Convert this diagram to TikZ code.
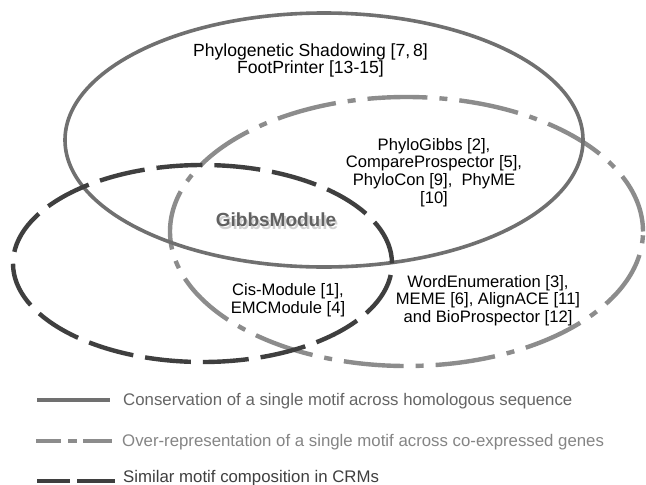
\documentclass[tikz,border=0pt]{standalone}
\usepackage{fontspec}
\setmainfont{Liberation Sans}
\begin{document}
\begin{tikzpicture}[x=1pt,y=-1pt,
  lab/.style={font=\fontsize{16.6}{17.6}\selectfont, text=black, align=center, inner sep=0pt},
  leg/.style={font=\fontsize{16.8}{18}\selectfont, anchor=west, inner sep=0pt},
  conscol/.style={draw=consgray, line width=3.6pt},
  overcol/.style={draw=overgray, line width=4.4pt, dash pattern=on 60pt off 12pt on 8pt off 12pt},
  crmcol/.style={draw=crmgray, line width=4.4pt, dash pattern=on 46pt off 12pt}
]
\definecolor{consgray}{HTML}{707070}
\definecolor{overgray}{HTML}{8C8C8C}
\definecolor{crmgray}{HTML}{3F3F3F}
\useasboundingbox[fill=white] (0,0) rectangle (646,485);

% ellipses
\draw[overcol] (406.5,231.5) ellipse [x radius=236.5pt, y radius=134.5pt];
\draw[conscol] (324,140) ellipse [x radius=259pt, y radius=127pt];
\draw[crmcol] (202.5,263.5) ellipse [x radius=189.5pt, y radius=98.5pt];

% texts
\node[lab, font=\fontsize{17.6}{17.8}\selectfont] (phylo) at (310.5,60.5) {Phylogenetic Shadowing [7,\,8]\\FootPrinter [13-15]};
\node[lab] (pgibbs) at (434,172.5) {PhyloGibbs [2],\\CompareProspector [5],\\PhyloCon [9],\ \ PhyME\\{[10]}};
\node[lab] (cis) at (288,300) {Cis-Module [1],\\EMCModule [4]};
\node[lab] (word) at (488,300.5) {WordEnumeration [3],\\MEME [6], AlignACE [11]\\and BioProspector [12]};

% GibbsModule with soft shadow
\node[font=\fontsize{19}{22}\selectfont\bfseries, text=black, opacity=0.18, inner sep=0pt] (gshadow) at (278,223) {GibbsModule};
\node[font=\fontsize{19}{22}\selectfont\bfseries, text=black!62, inner sep=0pt] (gibbs) at (276,220) {GibbsModule};

% legend
\coordinate (l1a) at (37,400); \coordinate (l1b) at (110,400);
\draw[draw=consgray, line width=4pt] (l1a) -- (l1b);
\node[leg, text=consgray!90!black] (t1) at (123,401) {Conservation of a single motif across homologous sequence};

\coordinate (l2a) at (36,441); \coordinate (l2b) at (61,441);
\coordinate (l2c) at (68,441); \coordinate (l2d) at (77,441);
\coordinate (l2e) at (83,441); \coordinate (l2f) at (112,441);
\draw[draw=overgray, line width=4pt] (l2a) -- (l2b) (l2c) -- (l2d) (l2e) -- (l2f);
\node[leg, text=overgray!95!black] (t2) at (122,442) {Over-representation of a single motif across co-expressed genes};

\coordinate (l3a) at (37,481); \coordinate (l3b) at (70,481);
\coordinate (l3c) at (77,481); \coordinate (l3d) at (115,481);
\draw[draw=crmgray, line width=4.4pt] (l3a) -- (l3b) (l3c) -- (l3d);
\node[leg, text=crmgray] (t3) at (123,478) {Similar motif composition in CRMs};
\end{tikzpicture}
\end{document}
